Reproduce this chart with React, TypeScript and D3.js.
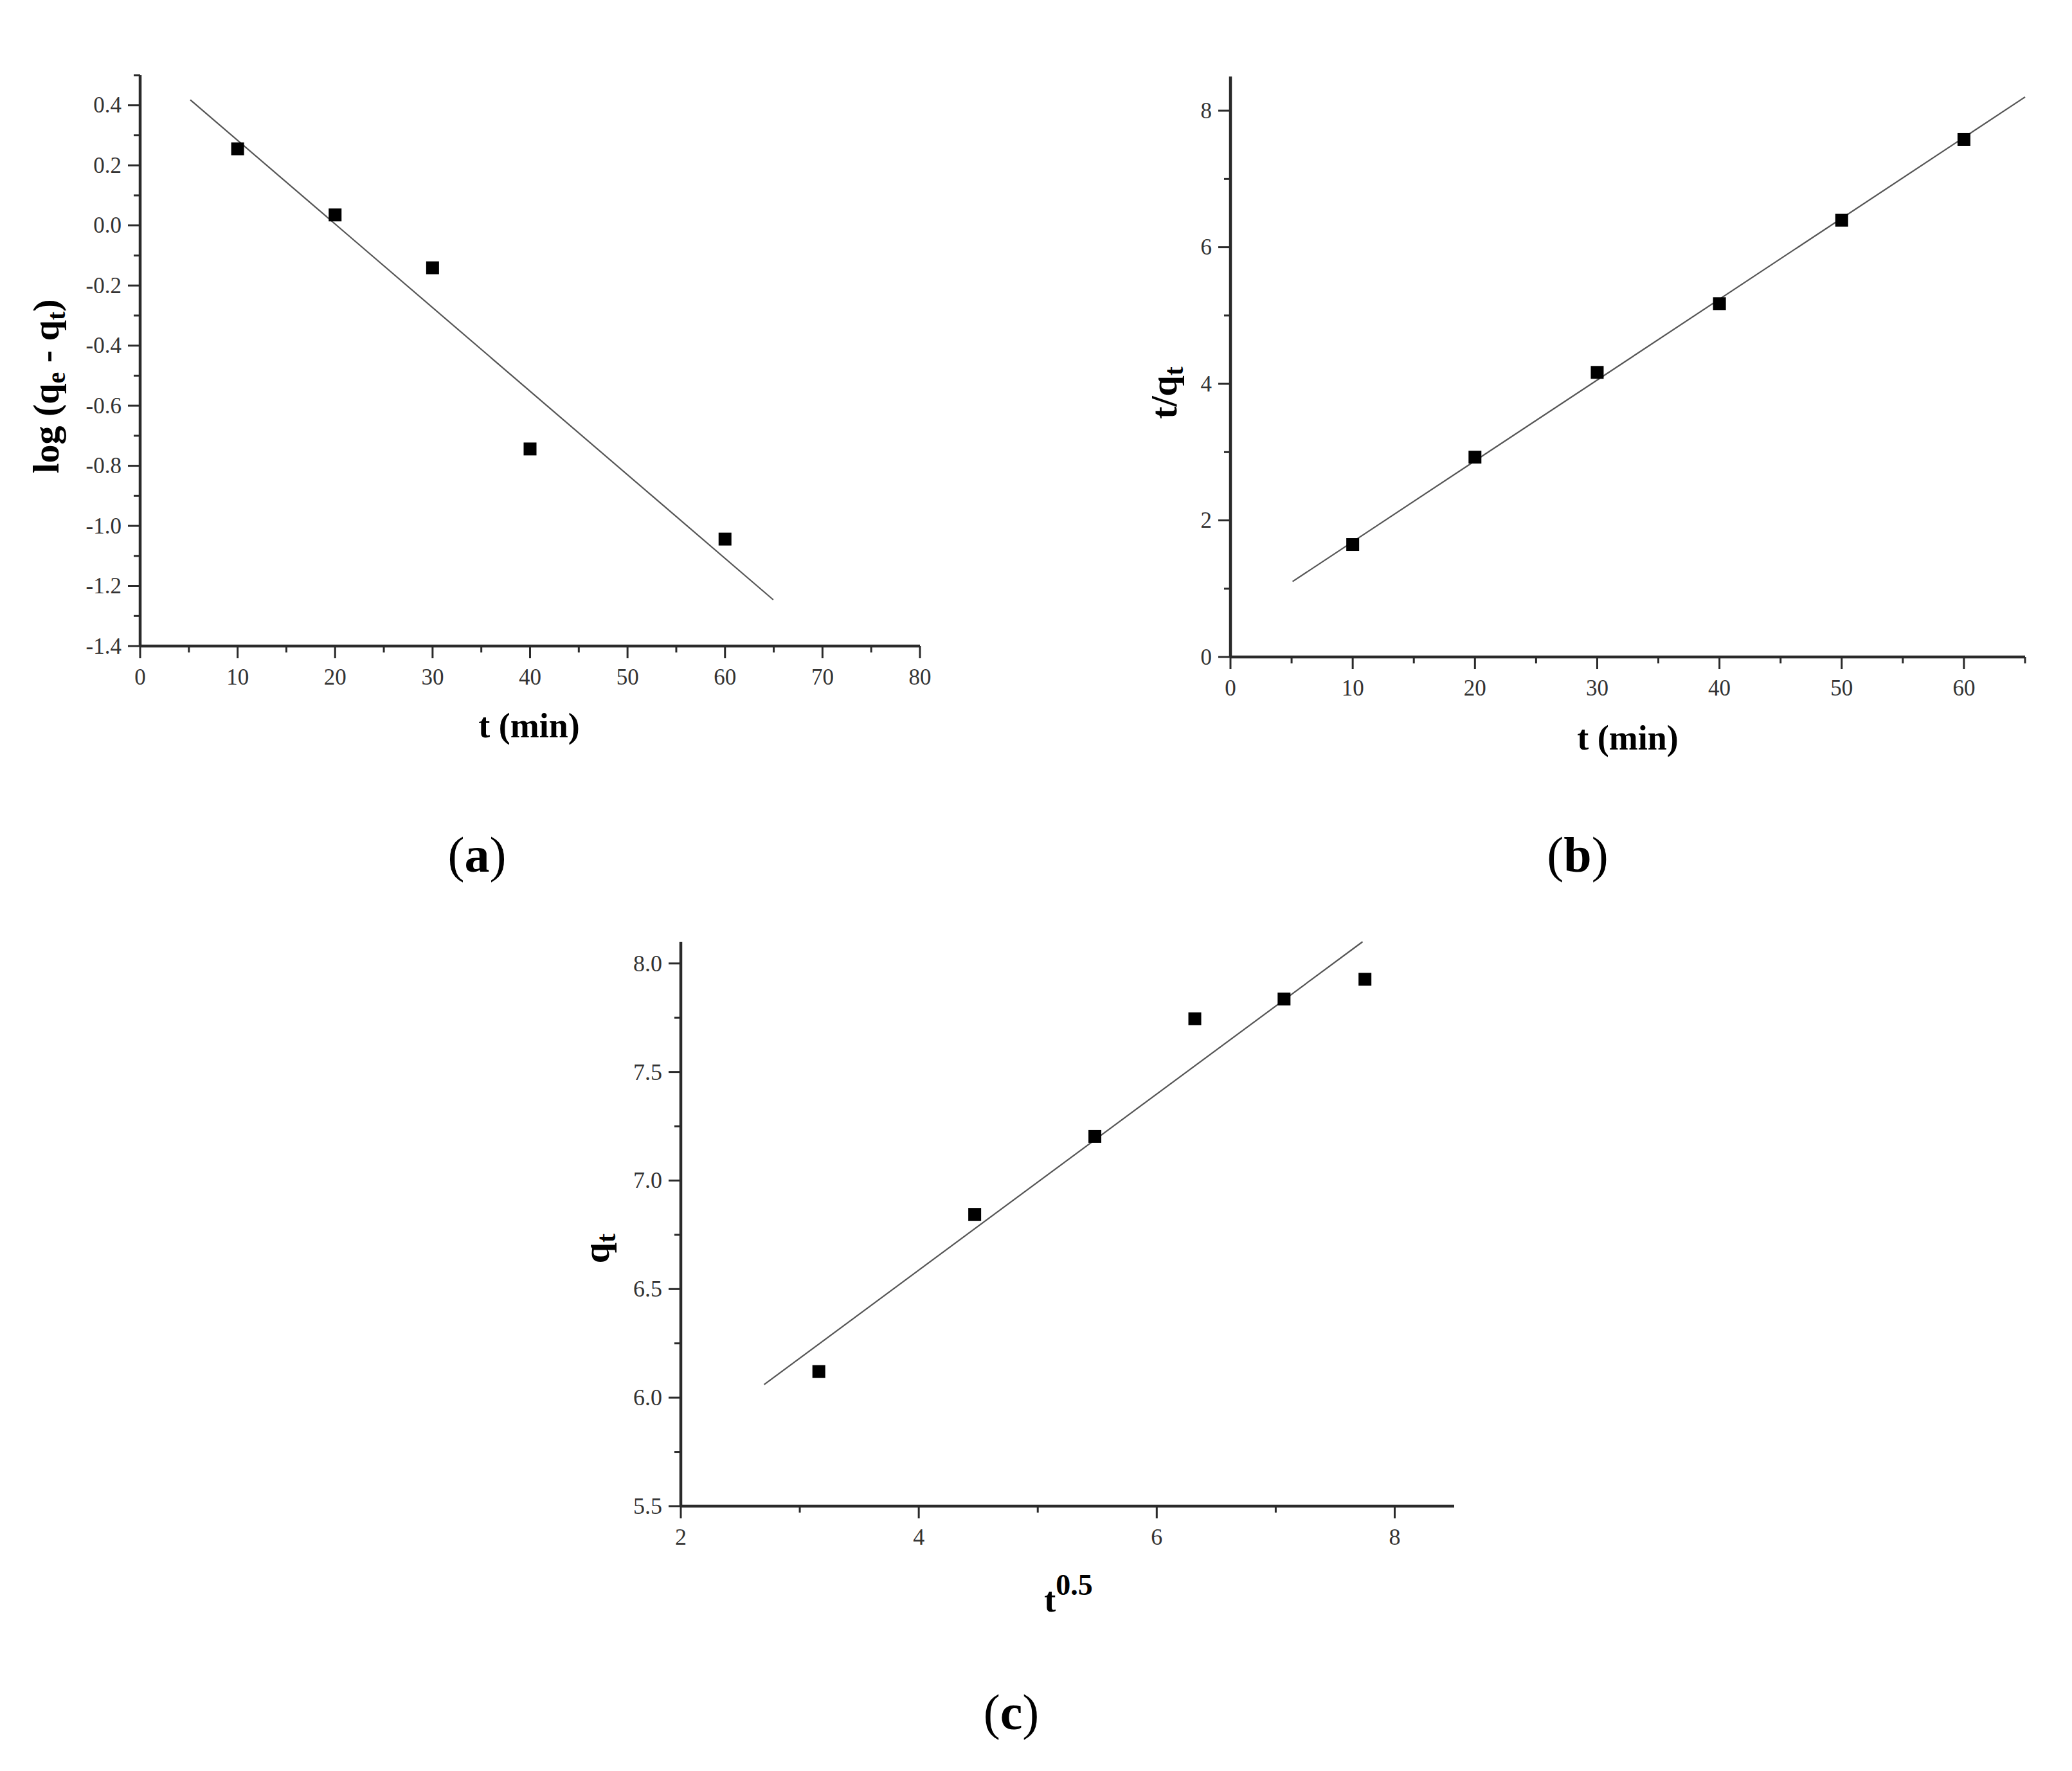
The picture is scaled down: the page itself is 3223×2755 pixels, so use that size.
import * as d3 from "d3";

// (a) pseudo-first-order
const timeA = [10, 20, 30, 40, 60];
const logQA = [0.255, 0.035, -0.141, -0.744, -1.044];
const fitTimeA = [5.15, 64.95];
const fitLogA = [0.418, -1.246];
const xTicksA = [0, 10, 20, 30, 40, 50, 60, 70, 80];
const xMinorA = [5, 15, 25, 35, 45, 55, 65, 75];
const yTicksA = [0.4, 0.2, 0.0, -0.2, -0.4, -0.6, -0.8, -1.0, -1.2, -1.4];
const yTickLabelsA = ["0.4", "0.2", "0.0", "-0.2", "-0.4", "-0.6", "-0.8", "-1.0", "-1.2", "-1.4"];
const yMinorA = [0.5, 0.3, 0.1, -0.1, -0.3, -0.5, -0.7, -0.9, -1.1, -1.3];

// (b) pseudo-second-order
const timeB = [10, 20, 30, 40, 50, 60];
const tOverQB = [1.647, 2.926, 4.167, 5.174, 6.395, 7.578];
const fitTimeB = [5.08, 65];
const fitValB = [1.105, 8.2];
const xTicksB = [0, 10, 20, 30, 40, 50, 60];
const xMinorB = [5, 15, 25, 35, 45, 55, 65];
const yTicksB = [0, 2, 4, 6, 8];
const yTickLabelsB = ["0", "2", "4", "6", "8"];
const yMinorB = [1, 3, 5, 7];

// (c) intraparticle diffusion
const sqrtTC = [3.16, 4.47, 5.48, 6.32, 7.07, 7.75];
const qtC = [6.12, 6.844, 7.203, 7.745, 7.836, 7.927];
const fitXC = [2.7, 7.73];
const fitYC = [6.06, 8.1];
const xTicksC = [2, 4, 6, 8];
const xMinorC = [3, 5, 7];
const yTicksC = [5.5, 6.0, 6.5, 7.0, 7.5, 8.0];
const yTickLabelsC = ["5.5", "6.0", "6.5", "7.0", "7.5", "8.0"];
const yMinorC = [5.75, 6.25, 6.75, 7.25, 7.75];

const FONT = "'Liberation Serif', 'Times New Roman', serif";
const AXIS = "#2a2a2a";

function Panel({ box, xDomain, yDomain, xs, ys, fitX, fitY, xTicks, xMinor, yTicks, yLabels, yMinor, xTitle, yTitle, tickSize }) {
  const x = d3.scaleLinear().domain(xDomain).range([box.left, box.right]);
  const y = d3.scaleLinear().domain(yDomain).range([box.bottom, box.top]);
  const line = d3.line();
  const fit = line(fitX.map((v, i) => [x(v), y(fitY[i])]));
  const major = 19;
  const minor = 10;
  return (
    <g>
      <path d={fit} fill="none" stroke="#555" strokeWidth={2.2} />
      {xs.map((v, i) => (
        <rect key={i} x={x(v) - 10} y={y(ys[i]) - 10} width={20} height={20} fill="#000" />
      ))}
      {/* y axis */}
      <line x1={box.left} x2={box.left} y1={box.top} y2={box.bottom} stroke={AXIS} strokeWidth={4.5} />
      {yTicks.map((v, i) => (
        <g key={"y" + i}>
          <line x1={box.left - major} x2={box.left} y1={y(v)} y2={y(v)} stroke={AXIS} strokeWidth={3} />
          <text x={box.left - major - 10} y={y(v)} textAnchor="end" dominantBaseline="central"
            fontFamily={FONT} fontSize={tickSize} fill="#333">{yLabels[i]}</text>
        </g>
      ))}
      {yMinor.map((v, i) => (
        <line key={"ym" + i} x1={box.left - minor} x2={box.left} y1={y(v)} y2={y(v)} stroke={AXIS} strokeWidth={3} />
      ))}
      {/* x axis */}
      <line x1={box.left} x2={box.right} y1={box.bottom} y2={box.bottom} stroke={AXIS} strokeWidth={4.5} />
      {xTicks.map((v) => (
        <g key={"x" + v}>
          <line x1={x(v)} x2={x(v)} y1={box.bottom} y2={box.bottom + major} stroke={AXIS} strokeWidth={3} />
          <text x={x(v)} y={box.bottom + 60} textAnchor="middle" fontFamily={FONT} fontSize={tickSize} fill="#333">{v}</text>
        </g>
      ))}
      {xMinor.map((v) => (
        <line key={"xm" + v} x1={x(v)} x2={x(v)} y1={box.bottom} y2={box.bottom + minor} stroke={AXIS} strokeWidth={3} />
      ))}
      {xTitle}
      {yTitle}
    </g>
  );
}

function PanelLabel({ x, y, letter }) {
  return (
    <text x={x} y={y} textAnchor="middle" fontFamily={FONT} fontSize={78} fill="#000">
      (<tspan fontWeight="bold">{letter}</tspan>)
    </text>
  );
}

export default function App() {
  const bold = { fontFamily: FONT, fontWeight: "bold", fill: "#000" };
  return (
    <svg width={3223} height={2755} style={{ position: "absolute", left: 0, top: 0, background: "#fff" }}>
      <rect width={3223} height={2755} fill="#fff" />
      <Panel
        box={{ left: 218, right: 1431, top: 117, bottom: 1005 }}
        xDomain={[0, 80]} yDomain={[-1.4, 0.5]}
        xs={timeA} ys={logQA} fitX={fitTimeA} fitY={fitLogA}
        xTicks={xTicksA} xMinor={xMinorA} yTicks={yTicksA} yLabels={yTickLabelsA} yMinor={yMinorA}
        tickSize={35}
        xTitle={<text x={823} y={1147} textAnchor="middle" fontSize={54} {...bold}>t (min)</text>}
        yTitle={
          <text transform="translate(91,601) rotate(-90)" textAnchor="middle" fontSize={58} {...bold}>
            log (q<tspan fontSize={40} dy={10}>e</tspan><tspan dy={-10}> - q</tspan><tspan fontSize={40} dy={10}>t</tspan><tspan dy={-10}>)</tspan>
          </text>
        }
      />
      <Panel
        box={{ left: 1914, right: 3150, top: 119, bottom: 1022 }}
        xDomain={[0, 65]} yDomain={[0, 8.5]}
        xs={timeB} ys={tOverQB} fitX={fitTimeB} fitY={fitValB}
        xTicks={xTicksB} xMinor={xMinorB} yTicks={yTicksB} yLabels={yTickLabelsB} yMinor={yMinorB}
        tickSize={35}
        xTitle={<text x={2532} y={1166} textAnchor="middle" fontSize={54} {...bold}>t (min)</text>}
        yTitle={
          <text transform="translate(1830,611) rotate(-90)" textAnchor="middle" fontSize={58} {...bold}>
            t/q<tspan fontSize={42} dy={10}>t</tspan>
          </text>
        }
      />
      <Panel
        box={{ left: 1059, right: 2262, top: 1465, bottom: 2343 }}
        xDomain={[2, 8.5]} yDomain={[5.5, 8.1]}
        xs={sqrtTC} ys={qtC} fitX={fitXC} fitY={fitYC}
        xTicks={xTicksC} xMinor={xMinorC} yTicks={yTicksC} yLabels={yTickLabelsC} yMinor={yMinorC}
        tickSize={36}
        xTitle={
          <text x={1662} y={2507} textAnchor="middle" fontSize={54} {...bold}>
            t<tspan fontSize={46} dy={-26}>0.5</tspan>
          </text>
        }
        yTitle={
          <text transform="translate(947,1942) rotate(-90)" textAnchor="middle" fontSize={58} {...bold}>
            q<tspan fontSize={42} dy={10}>t</tspan>
          </text>
        }
      />
      <PanelLabel x={742} y={1356} letter="a" />
      <PanelLabel x={2454} y={1356} letter="b" />
      <PanelLabel x={1573} y={2690} letter="c" />
    </svg>
  );
}
